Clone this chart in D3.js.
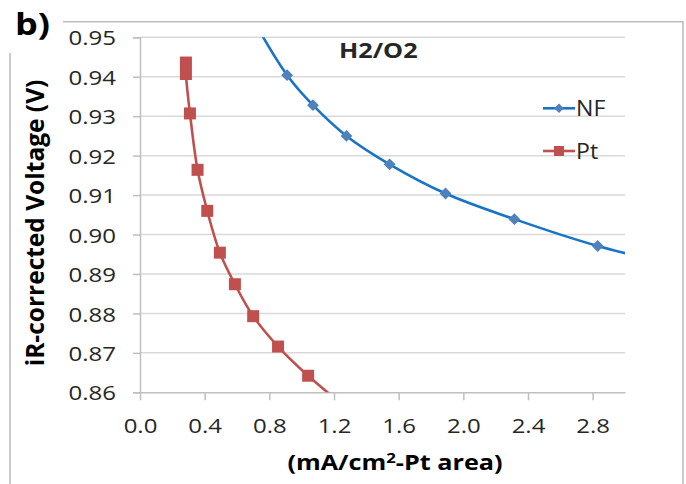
<!DOCTYPE html>
<html>
<head>
<meta charset="utf-8">
<script src="https://cdn.jsdelivr.net/npm/d3@7"></script>
<style>
html,body{margin:0;padding:0;background:#fff;}
svg{display:block;}
text{font-family:"Open Sans",Arial,sans-serif;}
</style>
</head>
<body>
<svg id="chart" width="686" height="484"></svg>
<script>
// ---- data ----
const nfCurrent = [0.72, 0.910, 1.070, 1.277, 1.544, 1.890, 2.316, 2.831, 3.45];
const nfVoltage = [0.9530, 0.9404, 0.9328, 0.9250, 0.9178, 0.9104, 0.9039, 0.8971, 0.8910];
const nfShown   = [false, true, true, true, true, true, true, true, false];
const ptCurrent = [0.284, 0.284, 0.309, 0.356, 0.416, 0.494, 0.587, 0.700, 0.854, 1.040, 1.30];
const ptVoltage = [0.9436, 0.9407, 0.9307, 0.9164, 0.9060, 0.8954, 0.8874, 0.8793, 0.8716, 0.8642, 0.8553];
const ptShown   = [true, true, true, true, true, true, true, true, true, true, false];
const xTicks = [0.0, 0.4, 0.8, 1.2, 1.6, 2.0, 2.4, 2.8];
const yTicks = [0.86, 0.87, 0.88, 0.89, 0.90, 0.91, 0.92, 0.93, 0.94, 0.95];
const seriesNames = ["NF", "Pt"];
const panelLabel = "b)";
const chartTitle = "H2/O2";
const xTitle = ["(mA/cm", "2", "-Pt area)"];
const yTitle = "iR-corrected Voltage (V)";

// ---- layout ----
const W = 686, H = 484;
const P = {left:140, right:625, top:37.3, bottom:392.3};
const SX = 1.2; // horizontal text stretch
const svg = d3.select("#chart");

const x = d3.scaleLinear().domain([0, 3.0]).range([P.left, P.right]);
const y = d3.scaleLinear().domain([0.86, 0.95]).range([P.bottom, P.top]);

function stretch(sel, k){
  sel.each(function(){
    const t = d3.select(this);
    const tx = +t.attr("x") || 0, ty = +t.attr("y") || 0;
    const prev = t.attr("transform") || "";
    t.attr("x", 0).attr("y", 0)
     .attr("transform", `${prev} translate(${tx},${ty}) scale(${k},1)`);
  });
}

// chart border
svg.append("path")
  .attr("d", `M63,21.7 H683 V484 M10,53 V484`)
  .attr("fill","none").attr("stroke","#bdbdbd").attr("stroke-width",1.6);

// gridlines
svg.append("g").selectAll("line").data(yTicks.slice(1)).join("line")
  .attr("x1", P.left).attr("x2", P.right)
  .attr("y1", d=>y(d)).attr("y2", d=>y(d))
  .attr("stroke","#d9d9d9").attr("stroke-width",1.5);

// y axis
const yAxis = svg.append("g").attr("transform",`translate(${P.left},0)`)
  .call(d3.axisLeft(y).tickValues(yTicks).tickFormat(d3.format(".2f")).tickSize(7).tickPadding(0));
yAxis.select(".domain").attr("stroke","#bfbfbf").attr("stroke-width",1.5);
yAxis.selectAll(".tick line").attr("stroke","#bfbfbf").attr("stroke-width",1.5);
yAxis.selectAll(".tick text").attr("font-size",20).attr("fill","#262626")
  .attr("x",-24).attr("dy","0.38em");
stretch(yAxis.selectAll(".tick text"), SX);

// x axis
const xAxis = svg.append("g").attr("transform",`translate(0,${P.bottom})`)
  .call(d3.axisBottom(x).tickValues(xTicks).tickFormat(d3.format(".1f")).tickSize(8).tickSizeOuter(0).tickPadding(0));
xAxis.select(".domain").attr("stroke","#bfbfbf").attr("stroke-width",1.5);
xAxis.selectAll(".tick line").attr("stroke","#bfbfbf").attr("stroke-width",1.5);
xAxis.selectAll(".tick text").attr("font-size",20).attr("fill","#262626")
  .attr("y",41).attr("dy",0);
stretch(xAxis.selectAll(".tick text"), SX);

// clip
svg.append("clipPath").attr("id","clip").append("rect")
  .attr("x",P.left).attr("y",P.top).attr("width",P.right-P.left).attr("height",P.bottom-P.top);

const line = d3.line().x(d=>x(d[0])).y(d=>y(d[1])).curve(d3.curveCatmullRom.alpha(0.5));
const nfData = nfCurrent.map((c,i)=>[c, nfVoltage[i], nfShown[i]]);
const ptData = ptCurrent.map((c,i)=>[c, ptVoltage[i], ptShown[i]]);

const plot = svg.append("g").attr("clip-path","url(#clip)");
plot.append("path").datum(nfData).attr("d", line)
  .attr("fill","none").attr("stroke","#1a74c6").attr("stroke-width",2.6);
plot.append("path").datum(ptData).attr("d", line)
  .attr("fill","none").attr("stroke","#c0504d").attr("stroke-width",2.6);

svg.append("g").selectAll("path").data(nfData.filter(d=>d[2])).join("path")
  .attr("d", d3.symbol().type(d3.symbolSquare).size(70))
  .attr("transform", d=>`translate(${x(d[0])},${y(d[1])}) rotate(45)`)
  .attr("fill","#4f81bd");
svg.append("g").selectAll("path").data(ptData.filter(d=>d[2])).join("path")
  .attr("d", d3.symbol().type(d3.symbolSquare).size(144))
  .attr("transform", d=>`translate(${x(d[0])},${y(d[1])})`)
  .attr("fill","#c0504d");

// legend
const legY = [108.3, 151];
const legColors = ["#1a74c6","#c0504d"];
const leg = svg.append("g");
seriesNames.forEach((name,i)=>{
  leg.append("line").attr("x1",543).attr("x2",575).attr("y1",legY[i]).attr("y2",legY[i])
    .attr("stroke",legColors[i]).attr("stroke-width",2.6);
  if(i===0){
    leg.append("path").attr("d", d3.symbol().type(d3.symbolSquare).size(45))
      .attr("transform",`translate(559,${legY[i]}) rotate(45)`).attr("fill","#4f81bd");
  } else {
    leg.append("path").attr("d", d3.symbol().type(d3.symbolSquare).size(100))
      .attr("transform",`translate(559,${legY[i]})`).attr("fill","#c0504d");
  }
  const t = leg.append("text").attr("x",576).attr("y",legY[i]+7.5)
    .attr("font-size",22).attr("fill","#262626").text(name);
  stretch(t, 1.05);
});

// titles
const tt = svg.append("text").attr("x",339).attr("y",57.5).attr("font-size",21)
  .attr("font-weight","bold").attr("fill","#262626").text(chartTitle);
stretch(tt, SX);
const pl = svg.append("text").attr("x",15).attr("y",35).attr("font-size",30)
  .attr("font-weight","bold").attr("fill","#000").text(panelLabel);
stretch(pl, SX);

const xt = svg.append("text").attr("x",395).attr("y",470).attr("text-anchor","middle")
  .attr("font-size",21).attr("font-weight","bold").attr("fill","#000");
xt.append("tspan").text(xTitle[0]);
xt.append("tspan").attr("font-size",14).attr("dy",-7).text(xTitle[1]);
xt.append("tspan").attr("dy",7).text(xTitle[2]);
stretch(xt, SX);

svg.append("text")
  .attr("transform",`translate(44,223) rotate(-90) scale(1,1.05)`)
  .attr("text-anchor","middle").attr("font-size",24.5).attr("font-weight","bold")
  .attr("fill","#000").text(yTitle);
</script>
</body>
</html>
